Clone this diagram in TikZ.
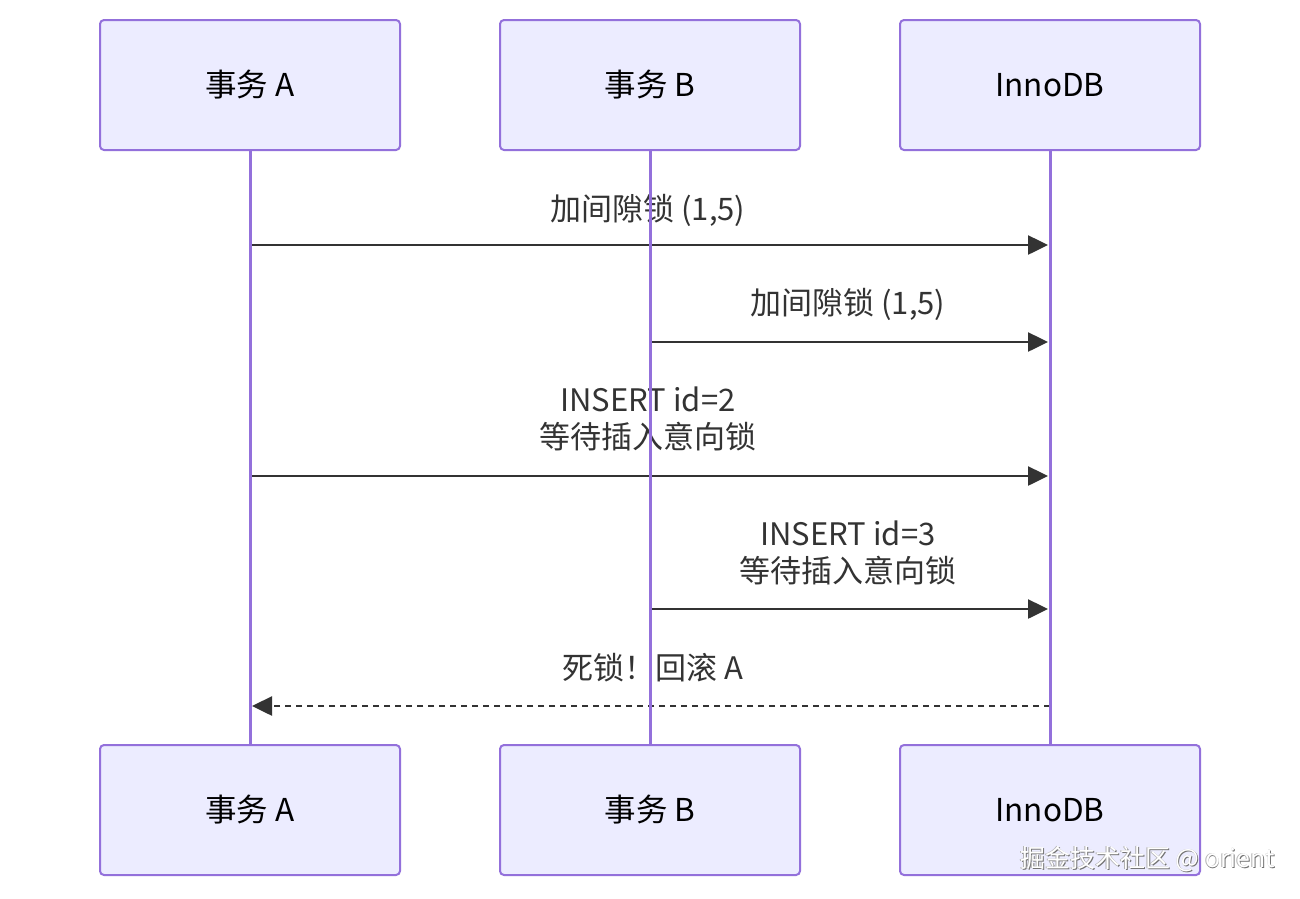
\documentclass[tikz,border=0pt]{standalone}
\usepackage{fontspec}
\setmainfont{Noto Sans CJK SC}
\usetikzlibrary{arrows.meta}
\definecolor{actfill}{HTML}{ECECFF}
\definecolor{actdraw}{HTML}{9370DB}
\definecolor{msg}{HTML}{333333}
\tikzset{
  actor/.style={draw=actdraw, fill=actfill, line width=2pt, rounded corners=4pt,
    minimum width=300pt, minimum height=130pt, inner sep=0pt,
    font=\fontsize{31.5}{36}\selectfont, text=black},
  life/.style={draw=actdraw, line width=3pt},
  msgline/.style={draw=msg, line width=2.5pt, -{Triangle[length=20pt,width=19pt]}},
  msgdash/.style={msgline, dash pattern=on 6pt off 5pt},
  lbl/.style={text=msg, align=center, inner sep=0pt, font=\fontsize{31}{37}\selectfont},
  wmark/.style={font=\fontsize{25}{28}\selectfont, anchor=west, inner sep=0pt},
}
\begin{document}
\begin{tikzpicture}[x=1pt,y=-1pt]
\useasboundingbox (0,0) rectangle (1300,898);
\fill[white] (0,0) rectangle (1300,898);
% actors
\node[actor] (a1) at (250,85) {事务 A};
\node[actor] (b1) at (650,85) {事务 B};
\node[actor] (c1) at (1050,85) {InnoDB};
\node[actor] (a2) at (250,810) {事务 A};
\node[actor] (b2) at (650,810) {事务 B};
\node[actor] (c2) at (1050,810) {InnoDB};
% message end points
\coordinate (m1s) at (250,245); \coordinate (m1e) at (1048,245);
\coordinate (m2s) at (650,342); \coordinate (m2e) at (1048,342);
\coordinate (m3s) at (250,476); \coordinate (m3e) at (1048,476);
\coordinate (m4s) at (650,609); \coordinate (m4e) at (1048,609);
\coordinate (m5s) at (1050,706); \coordinate (m5e) at (252,706);
% labels
\node[lbl] (l1) at (648,210) {加间隙锁 (1,5)};
\node[lbl] (l2) at (848,304) {加间隙锁 (1,5)};
\node[lbl] (l3) at (648,419) {INSERT id=2\\等待插入意向锁};
\node[lbl] (l4) at (848,553) {INSERT id=3\\等待插入意向锁};
\node[lbl] (l5) at (653,668) {死锁！回滚 A};
% messages
\draw[msgline] (m1s) -- (m1e);
\draw[msgline] (m2s) -- (m2e);
\draw[msgline] (m3s) -- (m3e);
\draw[msgline] (m4s) -- (m4e);
\draw[msgdash] (m5s) -- (m5e);
% lifelines
\draw[life] (a1.south) -- (a2.north);
\draw[life] (b1.south) -- (b2.north);
\draw[life] (c1.south) -- (c2.north);
% watermark
\node[wmark, text=black!55] (wms) at (1020.8,860.2) {掘金技术社区 @ orient};
\node[wmark, text=black!30] (wmt) at (1019.2,858.8) {掘金技术社区 @ orient};
\node[wmark, text=white] (wm) at (1020,859) {掘金技术社区 @ orient};
\end{tikzpicture}
\end{document}
